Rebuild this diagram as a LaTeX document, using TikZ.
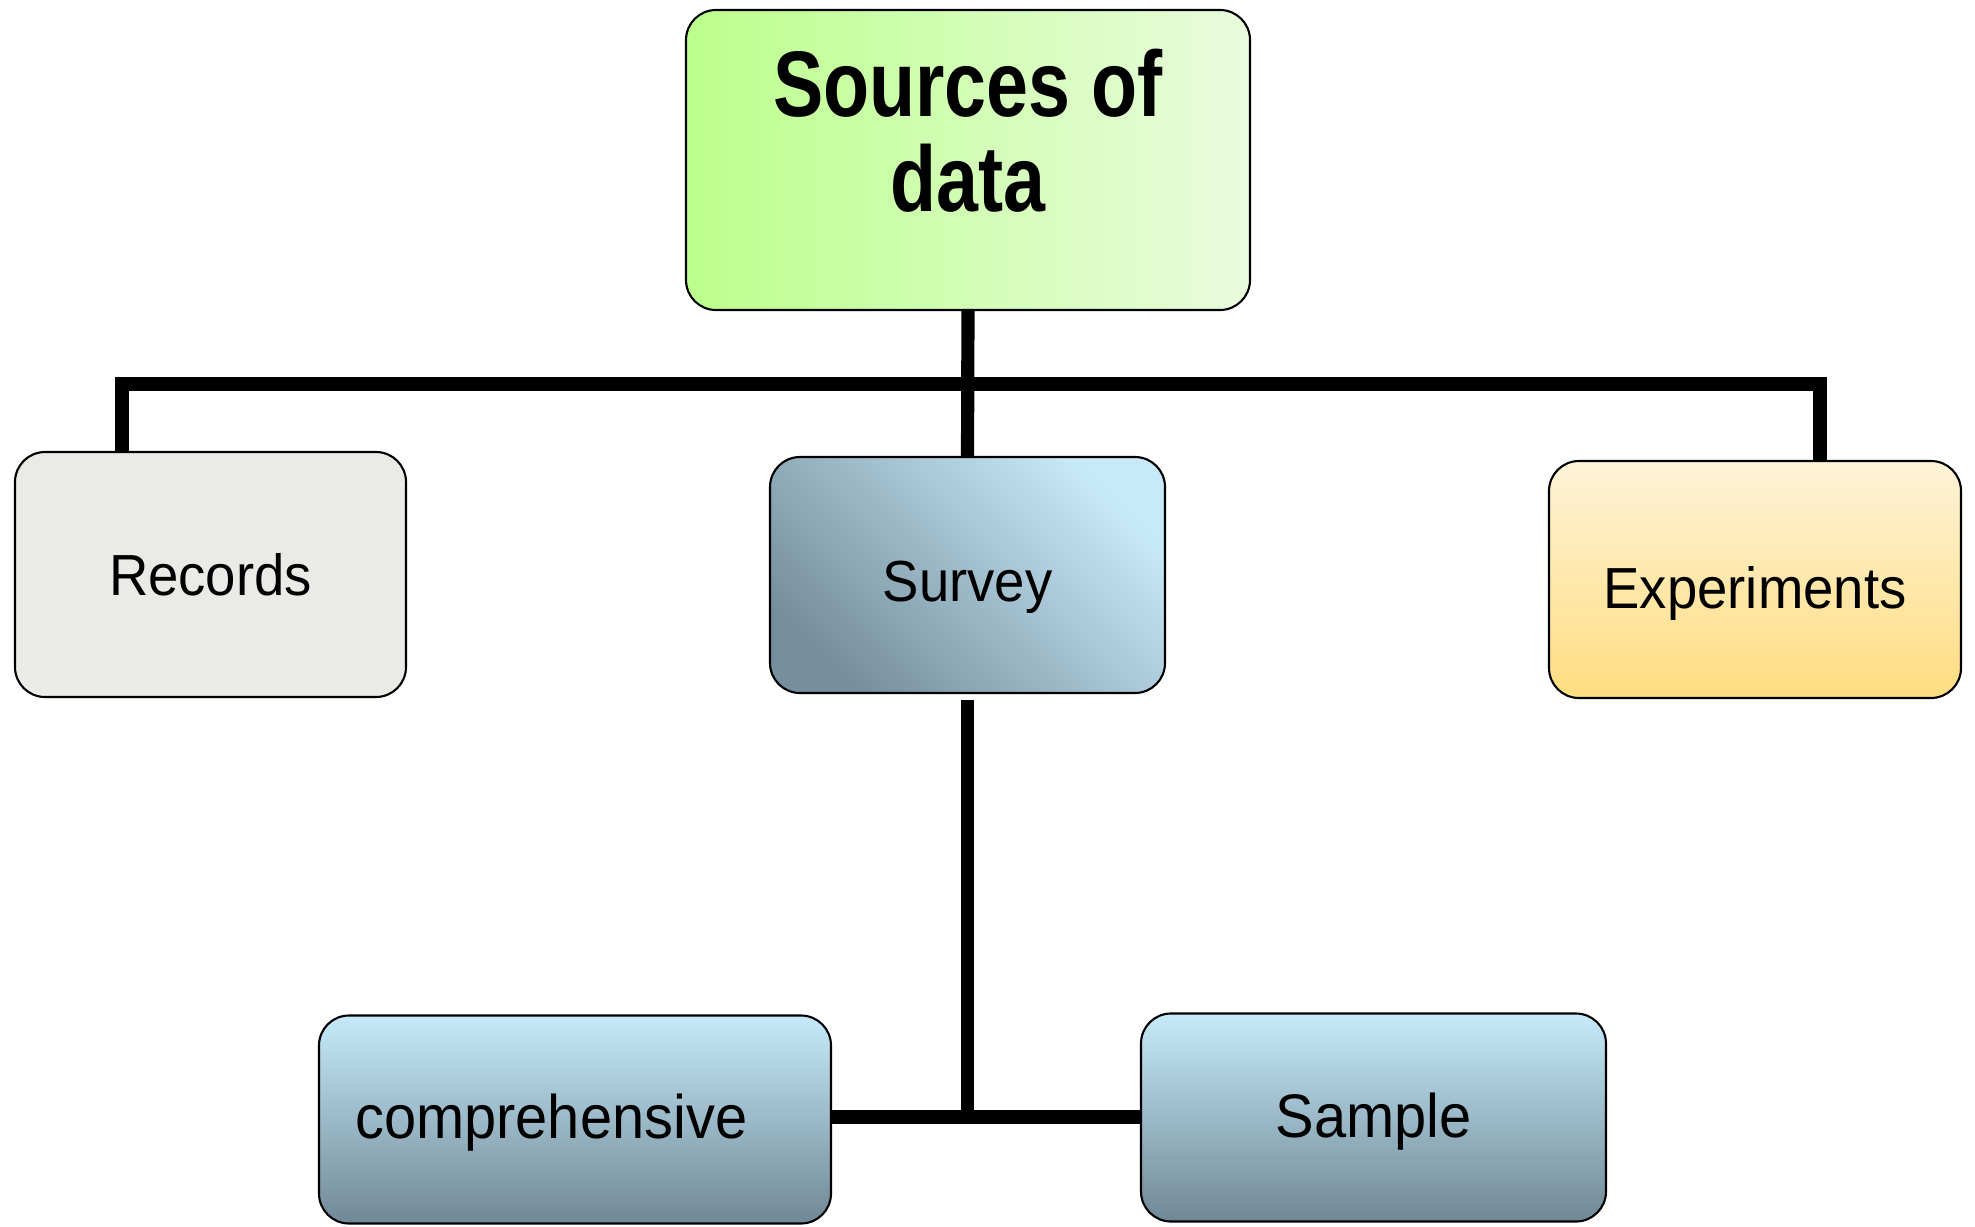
\documentclass[tikz,border=0pt]{standalone}
\usepackage{fontspec}
\setmainfont{Liberation Sans}
\newfontfamily\labelfont[FakeStretch=0.94]{Liberation Sans}
\newfontfamily\titlefont[FakeStretch=0.81]{Liberation Sans}
\usetikzlibrary{calc}

\definecolor{srcL}{RGB}{188,255,140}
\definecolor{srcR}{RGB}{233,252,222}
\definecolor{recFill}{RGB}{234,234,230}
\definecolor{survDark}{RGB}{118,143,158}
\definecolor{survLight}{RGB}{200,233,248}
\definecolor{expTop}{RGB}{255,243,216}
\definecolor{expBot}{RGB}{255,221,128}
\definecolor{subTop}{RGB}{198,234,250}
\definecolor{subBot}{RGB}{112,136,150}

\newcommand{\lowered}[2]{\raisebox{-#1}[\height][\depth]{#2}}

\tikzset{
	box/.style={draw, line width=1.2pt, rounded corners=0.6cm, inner sep=0pt, align=center},
	label text/.style={font=\labelfont\fontsize{33}{38}\selectfont},
	sub text/.style={font=\labelfont\fontsize{35}{40}\selectfont},
	bar/.style={line width=7.5pt, line join=miter}
}

\begin{document}
\begin{tikzpicture}[x=0.02cm, y=-0.02cm]
	\useasboundingbox (0,0) rectangle (1975,1227);
	% box sizes (in px of the reference)
	\def\HB{245}
	\def\HS{208}
	
	% top
	\node[box, minimum width=564*0.02cm, minimum height=300*0.02cm, left color=srcL, right color=srcR,
		label={[font=\titlefont\bfseries\fontsize{53}{54}\selectfont, align=center, yshift=0.58cm]center:Sources of\\data}]
		(src) at (968,160) {};
	
	% second row
	\node[box, label text, minimum width=391*0.02cm, minimum height=\HB*0.02cm, fill=recFill]
		(rec) at (210.5,574.5) {Records};
	\node[box, label text, minimum width=395*0.02cm, minimum height=236*0.02cm, top color=survLight, bottom color=survDark, shading angle=-45]
		(surv) at (967.5,575) {\lowered{0.25cm}{Survey}};
	\node[box, label text, minimum width=412*0.02cm, minimum height=237*0.02cm, top color=expTop, bottom color=expBot]
		(exp) at (1755,579.5) {\lowered{0.28cm}{Experiments}};
	
	% third row
	\node[box, sub text, minimum width=512*0.02cm, minimum height=\HS*0.02cm, top color=subTop, bottom color=subBot]
		(comp) at (575,1119.5) {\hspace*{-0.95cm}\lowered{0.06cm}{comprehensive}};
	\node[box, sub text, minimum width=465*0.02cm, minimum height=\HS*0.02cm, top color=subTop, bottom color=subBot]
		(samp) at (1373.5,1117.5) {\lowered{0.08cm}{Sample}};
	
	% connectors
	\coordinate (busL) at (122,384);
	\coordinate (busR) at (1820,384);
	\draw[bar] (src.south) -- (surv.north);
	\draw[bar] (busL |- rec.north) -- (busL) -- (busR) -- (busR |- exp.north);
	\draw[bar] (comp.east |- 0,1117) -- (samp.west |- 0,1117);
	\draw[bar, shorten <=0.12cm] (surv.south) -- (surv.south |- 0,1117);
\end{tikzpicture}
\end{document}
